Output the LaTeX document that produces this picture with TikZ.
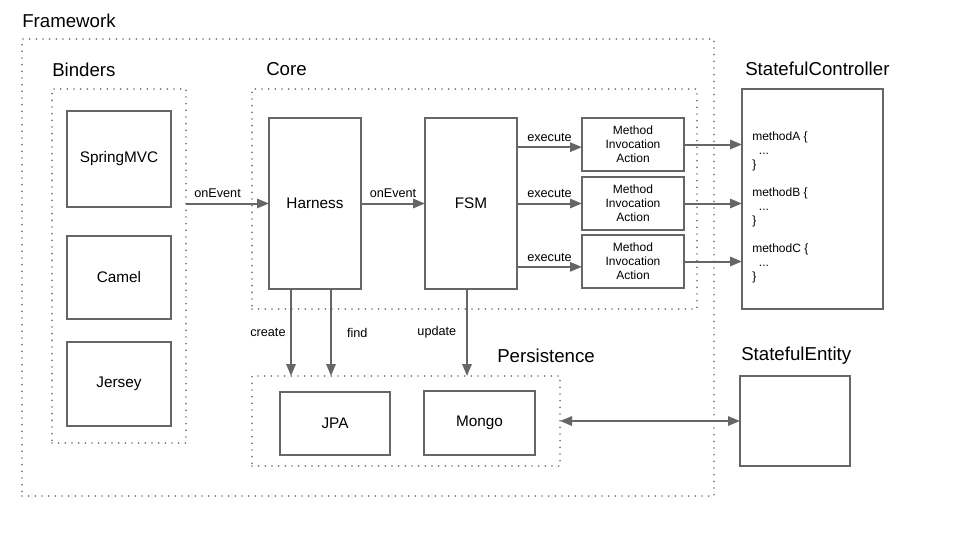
\documentclass[tikz,border=0pt]{standalone}
\usepackage{fontspec}
\setmainfont{Liberation Sans}
\usetikzlibrary{arrows.meta,positioning}
\definecolor{linegray}{HTML}{666666}
\definecolor{dotgray}{HTML}{7A7A7A}

\begin{document}
\begin{tikzpicture}[x=0.75pt, y=-0.75pt,
    >={Triangle[length=9pt,width=7pt]},
    box/.style={draw=linegray, line width=1.5pt, inner sep=0pt, outer sep=0pt, font=\fontsize{11.5}{13}\selectfont},
    boxsize/.style 2 args={minimum width=#1*0.75pt, minimum height=#2*0.75pt},
    mia/.style={box, boxsize={102}{53}, align=center, font=\fontsize{9}{10.5}\selectfont},
    group/.style={draw=dotgray, line width=1.4pt, line cap=round, dash pattern=on 0pt off 5pt, inner sep=0pt, outer sep=0pt},
    title/.style={anchor=west, inner sep=0pt, font=\fontsize{14}{16}\selectfont},
    small/.style={font=\fontsize{9.5}{11}\selectfont},
    arr/.style={draw=linegray, line width=1.5pt, ->}]
    \useasboundingbox (0,0) rectangle (960,540);

    % containers
    \node[group, boxsize={692}{457}] (framework) at (368,267.5) {};
    \node[title] (frameworklbl) at (22,21) {Framework};
    \node[group, boxsize={134}{354}] (binders) at (119,266) {};
    \node[title] (binderslbl) at (52,70) {Binders};
    \node[group, boxsize={445}{220}] (core) at (474.5,199) {};
    \node[title] (corelbl) at (266,69) {Core};
    \node[group, boxsize={308}{90}] (persist) at (406,421) {};
    \node[title] (persistlbl) at (497,356) {Persistence};

    % binders
    \node[box, boxsize={104}{96}] (springmvc) at (119,159) {SpringMVC};
    \node[box, boxsize={104}{83}, below=21.75pt of springmvc] (camel) {Camel};
    \node[box, boxsize={104}{84}, below=17.25pt of camel] (jersey) {Jersey};

    % core
    \node[box, boxsize={92}{171}] (harness) at (315,203.5) {Harness};
    \node[box, boxsize={92}{171}, right=48pt of harness] (fsm) {FSM};
    \node[mia] (mia1) at (633,144.5) {Method\\Invocation\\Action};
    \node[mia, below=4.5pt of mia1] (mia2) {Method\\Invocation\\Action};
    \node[mia, below=3.75pt of mia2] (mia3) {Method\\Invocation\\Action};

    % persistence
    \node[box, boxsize={110}{63}] (jpa) at (335,423.5) {JPA};
    \node[box, boxsize={111}{64}] (mongo) at (479.5,423) {Mongo};

    % outside
    \node[box, boxsize={141}{220}] (ctrl) at (812.5,199) {};
    \node[title] (ctrllbl) at (745,69) {StatefulController};
    \node[anchor=north west, inner sep=0pt, align=left, font=\fontsize{9}{10.5}\selectfont] (methods) at (752,132)
        {methodA \{\\\hspace*{5pt}...\\\}\\[10.5pt]methodB \{\\\hspace*{5pt}...\\\}\\[10.5pt]methodC \{\\\hspace*{5pt}...\\\}};
    \node[box, boxsize={110}{90}] (entity) at (795,421) {};
    \node[title] (entitylbl) at (741,356) {StatefulEntity};

    \draw[arr] (binders.east |- harness.west) -- node[small, above, pos=0.38] (ev1) {onEvent} (harness.west);
    \draw[arr] (harness) -- node[small, above] (ev2) {onEvent} (fsm);
    \foreach \m/\dy in {mia1/-2pt,mia2/0pt,mia3/-4pt} {
        \draw[arr] ([yshift=\dy]fsm.east |- \m.west) -- node[small, above] (ex\m) {execute} ([yshift=\dy]\m.west);
        \draw[arr] (\m.east) -- (ctrl.west |- \m.east);
    }

    \coordinate (createtop) at ([xshift=16.5pt]harness.south west);
    \coordinate (findtop) at ([xshift=46.5pt]harness.south west);
    \coordinate (updatetop) at ([xshift=-3pt]fsm.south);
    \draw[arr] (createtop) -- node[small, left] (create) {create} (createtop |- persist.north);
    \draw[arr] (findtop) -- node[small, right, xshift=8pt] (find) {find} (findtop |- persist.north);
    \draw[arr] (updatetop) -- node[small, left, xshift=-4pt] (update) {update} (updatetop |- persist.north);

    \draw[arr, <->] (persist) -- (entity);
\end{tikzpicture}
\end{document}
